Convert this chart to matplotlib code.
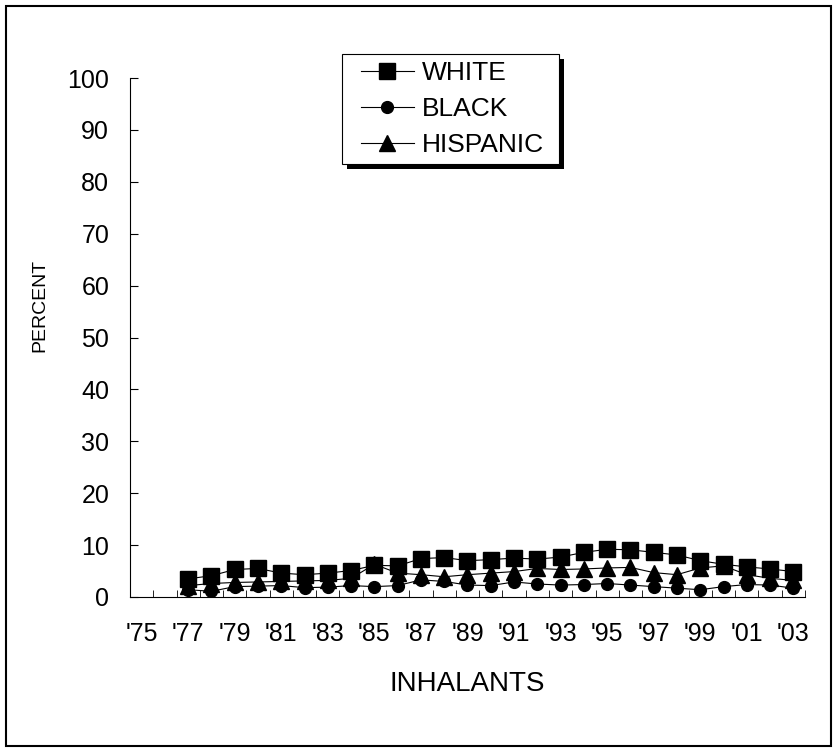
import numpy as np
import matplotlib.pyplot as plt
from matplotlib.patches import Rectangle
from matplotlib.transforms import IdentityTransform

plt.rcParams['font.family'] = ['Liberation Sans', 'DejaVu Sans']

years = list(range(1975, 2004))
tick_labels = ["'%02d" % (y % 100) if (y - 1975) % 2 == 0 else '' for y in years]

# data starts in 1977
white = [3.5, 4.1, 5.3, 5.5, 4.6, 4.3, 4.6, 5.1, 6.1, 6.0,
         7.4, 7.6, 7.0, 7.2, 7.5, 7.3, 7.7, 8.6, 9.2, 9.1, 8.6, 8.1, 7.0, 6.3, 5.8, 5.4, 4.9]
black = [1.4, 1.1, 2.0, 2.1, 2.2, 1.8, 1.9, 2.2, 2.0, 2.2,
         3.3, 3.0, 2.3, 2.2, 2.9, 2.5, 2.3, 2.4, 2.6, 2.3, 2.0, 1.7, 1.4, 2.0, 2.4, 2.3, 1.7]
hispanic = [2.2, 2.6, 2.8, 2.9, 3.0, 3.1, 3.2, 3.6, 6.3, 4.6,
            4.3, 3.9, 4.3, 4.6, 4.9, 5.5, 5.3, 5.4, 5.6, 5.7, 4.7, 4.3, 5.6, 6.0, 4.3, 3.6, 3.2]
data_x = np.arange(2, 29)

fig = plt.figure(figsize=(8.37, 7.51), dpi=100)
ax = fig.add_axes([130/837, 1 - 597/751, 675/837, 519/751])

ax.plot(data_x, white, color='black', lw=0.8, marker='s', ms=11, label='WHITE')
ax.plot(data_x, black, color='black', lw=0.8, marker='o', ms=8.5, label='BLACK')
ax.plot(data_x, hispanic, color='black', lw=0.8, marker='^', ms=11.5, label='HISPANIC')

ax.set_xlim(-0.5, 28.5)
ax.set_ylim(0, 100)
ax.set_yticks(range(0, 101, 10))
ax.tick_params(axis='y', labelsize=18, length=6, direction='in', pad=15)
ax.set_xticks(range(29))
ax.set_xticklabels(tick_labels)
ax.set_xticks(np.arange(-0.5, 29, 1), minor=True)
ax.tick_params(axis='x', which='major', length=0, labelsize=18, pad=18)
ax.tick_params(axis='x', which='minor', length=5, direction='in')
for s in ['top', 'right']:
    ax.spines[s].set_visible(False)

ax.set_xlabel('INHALANTS', fontsize=20, labelpad=18)
fig.text(40/837, 1 - 305/751, 'PERCENT', fontsize=14, rotation=90,
         ha='center', va='center')

leg = ax.legend(loc='upper left', bbox_to_anchor=(361/837, 1 - 61/751),
                bbox_transform=fig.transFigure, fontsize=19, frameon=False,
                handlelength=2.0, numpoints=1, borderpad=0, labelspacing=0.45,
                handletextpad=0.3, borderaxespad=0)

# legend frame with a black drop shadow, drawn by hand for the wider side padding
fig.canvas.draw()
bb = leg.get_window_extent()
x0, y0 = bb.x0 - 19, bb.y0 - 7
w, h = bb.width + 19 + 15, bb.height + 14
ax.add_patch(Rectangle((x0 + 5, y0 - 5), w, h, transform=IdentityTransform(),
                       facecolor='black', edgecolor='none', clip_on=False, zorder=4.8))
ax.add_patch(Rectangle((x0, y0), w, h, transform=IdentityTransform(),
                       facecolor='white', edgecolor='black', lw=0.8,
                       clip_on=False, zorder=4.9))

fig.patches.append(Rectangle((6/837, 5/751), 825/837, 740/751, transform=fig.transFigure,
                             fill=False, edgecolor='black', lw=1.5))

fig.savefig('out.png', dpi=100)
